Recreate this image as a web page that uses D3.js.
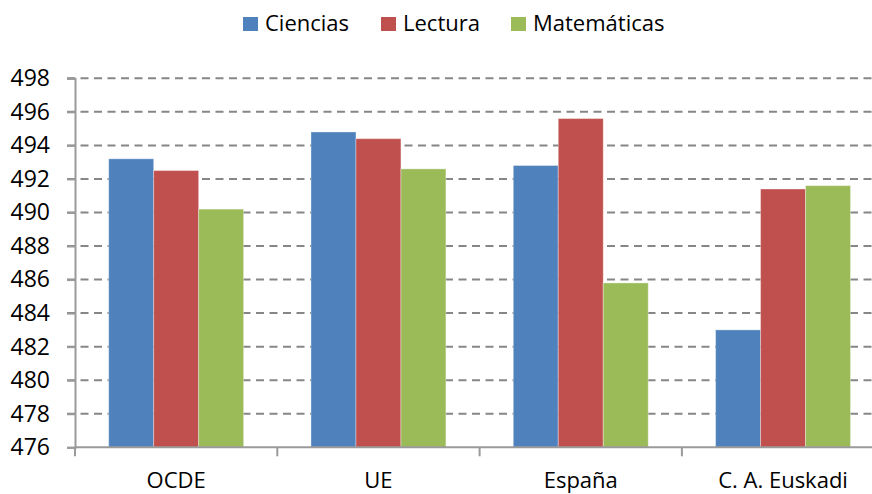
<!DOCTYPE html>
<html><head><meta charset="utf-8">
<script src="https://cdn.jsdelivr.net/npm/d3@7"></script>
<style>html,body{margin:0;padding:0;background:#fff;overflow:hidden}svg{display:block}</style>
</head><body><div id="chart"></div>
<script>
const categories = ["OCDE", "UE", "España", "C. A. Euskadi"];
const seriesNames = ["Ciencias", "Lectura", "Matemáticas"];
const ciencias = [493.2, 494.8, 492.8, 483.0];
const lectura = [492.5, 494.4, 495.6, 491.4];
const matematicas = [490.2, 492.6, 485.8, 491.6];
const colors = ["#4F81BD", "#C0504D", "#9BBB59"];
const yTicks = [476, 478, 480, 482, 484, 486, 488, 490, 492, 494, 496, 498];

const values = [ciencias, lectura, matematicas];
const W = 872, H = 494;
const font = "'Open Sans', sans-serif";
const svg = d3.select("#chart").append("svg").attr("width", W).attr("height", H);

const x0 = 75, x1 = 75 + 4 * 202.3;
const y = d3.scaleLinear().domain([476, 498]).range([447.3, 78.3]);
const x = d3.scaleBand().domain(categories).range([x0, x1]).paddingInner(0.333).paddingOuter(0.1665);
const xs = d3.scaleBand().domain(seriesNames).range([0, x.bandwidth()]);

// gridlines
svg.append("g").selectAll("line").data(yTicks.slice(1)).join("line")
  .attr("x1", 67).attr("x2", x1).attr("y1", d => y(d)).attr("y2", d => y(d))
  .attr("stroke", "#868686").attr("stroke-width", 2).attr("stroke-dasharray", "8,5.5");

// bars
const rows = categories.map((c, i) => seriesNames.map((s, j) => ({c, s, v: values[j][i], j})));
svg.append("g").selectAll("g").data(rows).join("g")
  .attr("transform", d => `translate(${x(d[0].c)},0)`)
  .selectAll("rect").data(d => d).join("rect")
  .attr("x", d => xs(d.s)).attr("width", xs.bandwidth())
  .attr("y", d => y(d.v)).attr("height", d => y(476) - y(d.v))
  .attr("fill", d => colors[d.j])
  .attr("stroke", "rgba(255,255,255,0.35)").attr("stroke-width", 1);

// y axis
const yAxis = d3.axisLeft(y).tickValues(yTicks).tickSize(8).tickPadding(17).tickFormat(d3.format("d"));
const gy = svg.append("g").attr("transform", `translate(${x0},0)`).call(yAxis);
gy.select(".domain").attr("stroke", "#9a9a9a").attr("stroke-width", 2);
gy.selectAll(".tick line").attr("stroke", "#9a9a9a").attr("stroke-width", 2);
gy.selectAll("text").attr("font-family", font).attr("font-size", 23).attr("fill", "#000");

// x axis
const gx = svg.append("g").attr("transform", `translate(0,${y(476)})`);
gx.append("line").attr("x1", x0).attr("x2", x1).attr("stroke", "#9a9a9a").attr("stroke-width", 2);
const bounds = d3.range(categories.length + 1).map(i => x0 + i * x.step());
gx.selectAll(".tk").data(bounds).join("line").attr("class", "tk")
  .attr("x1", d => d).attr("x2", d => d).attr("y1", 0).attr("y2", 9)
  .attr("stroke", "#9a9a9a").attr("stroke-width", 2);
gx.selectAll("text").data(categories).join("text")
  .attr("x", d => x(d) + x.bandwidth() / 2).attr("y", 41)
  .attr("text-anchor", "middle").attr("font-family", font).attr("font-size", 22).attr("fill", "#000")
  .text(d => d);

// legend
const legX = [243, 381, 511];
const lg = svg.append("g").selectAll("g").data(seriesNames).join("g")
  .attr("transform", (d, i) => `translate(${legX[i]},17)`);
lg.append("rect").attr("width", 15).attr("height", 14).attr("fill", (d, i) => colors[i]);
lg.append("text").attr("x", 22).attr("y", 14).attr("font-family", font).attr("font-size", 22)
  .attr("fill", "#000").text(d => d);
</script></body></html>
